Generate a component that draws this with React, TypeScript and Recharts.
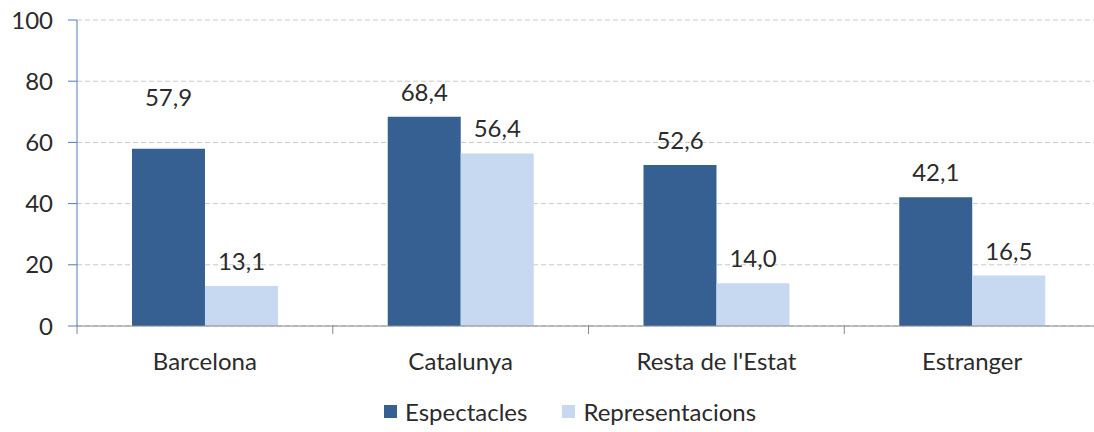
import { BarChart, Bar, XAxis, YAxis, CartesianGrid, LabelList } from 'recharts';

const categories = ['Barcelona', 'Catalunya', "Resta de l'Estat", 'Estranger'];
const espectacles = [57.9, 68.4, 52.6, 42.1];
const representacions = [13.1, 56.4, 14.0, 16.5];
const yTicks = [0, 20, 40, 60, 80, 100];

const DARK = '#376092';
const LIGHT = '#c6d9f0';
const TEXT = '#2b2b2b';
const FONT = 'Lato, "Open Sans", sans-serif';
const FS = 24;

const data = categories.map((name, i) => ({
  name,
  espectacles: espectacles[i],
  representacions: representacions[i],
}));

const fmt = (v: number) => v.toFixed(1).replace('.', ',');

// Excel pushed the first label up to clear the gridline
const makeLabel = (series: string) => (props: any) => {
  const { x, y, width, value, index } = props;
  const lift = series === 'espectacles' && index === 0 ? 27 : 0;
  return (
    <text
      x={x + width / 2}
      y={y - 16 - lift}
      textAnchor="middle"
      fill={TEXT}
      fontSize={FS}
      fontFamily={FONT}
    >
      {fmt(value)}
    </text>
  );
};

const CategoryTick = (props: any) => {
  const { x, y, payload } = props;
  const half = payload.offset ?? 128;
  return (
    <g>
      <line x1={x - half} y1={y - 9} x2={x - half} y2={y} stroke="#888" />
      <text x={x} y={y + 36} textAnchor="middle" fill={TEXT} fontSize={FS} fontFamily={FONT}>
        {payload.value}
      </text>
    </g>
  );
};

function LegendBox() {
  const items = [
    { label: 'Espectacles', color: DARK },
    { label: 'Representacions', color: LIGHT },
  ];
  return (
    <div
      style={{
        position: 'absolute',
        top: 397,
        left: 384,
        display: 'flex',
        gap: 35,
        fontFamily: FONT,
        fontSize: FS,
        lineHeight: '29px',
        color: TEXT,
      }}
    >
      {items.map((it) => (
        <div key={it.label} style={{ display: 'flex', alignItems: 'center', gap: 8 }}>
          <span style={{ width: 13, height: 13, background: it.color, display: 'inline-block' }} />
          <span>{it.label}</span>
        </div>
      ))}
    </div>
  );
}

export default function App() {
  return (
    <div
      style={{
        position: 'absolute',
        left: 0,
        top: 0,
        width: 1094,
        height: 432,
        overflow: 'hidden',
        background: '#fff',
      }}
    >
      <BarChart
        width={1110}
        height={432}
        data={data}
        margin={{ top: 20, right: 10, left: 0, bottom: 56 }}
        barCategoryGap="21.5%"
        barGap={0}
      >
        <CartesianGrid vertical={false} stroke="#c8c8c8" strokeDasharray="5 3" />
        <XAxis
          dataKey="name"
          height={50}
          stroke="#888"
          tickLine={false}
          tick={<CategoryTick />}
          interval={0}
        />
        <YAxis
          width={77}
          domain={[0, 100]}
          ticks={yTicks}
          stroke="#4a7ebb"
          tickSize={9}
          tickMargin={15}
          tick={{ fill: TEXT, fontSize: FS, fontFamily: FONT }}
        />
        <Bar dataKey="espectacles" fill={DARK} isAnimationActive={false}>
          <LabelList dataKey="espectacles" content={makeLabel('espectacles')} />
        </Bar>
        <Bar dataKey="representacions" fill={LIGHT} isAnimationActive={false}>
          <LabelList dataKey="representacions" content={makeLabel('representacions')} />
        </Bar>
      </BarChart>
      <LegendBox />
    </div>
  );
}
